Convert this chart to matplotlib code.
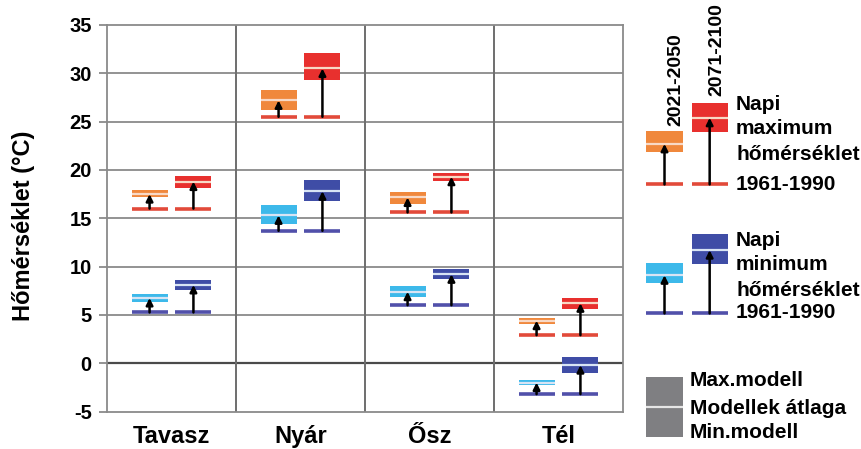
import matplotlib.pyplot as plt
import numpy as np

plt.rcParams['font.family'] = ['Liberation Sans', 'DejaVu Sans']
plt.rcParams['font.weight'] = 'bold'

# seasons
seasons = ['Tavasz', 'Nyár', 'Ősz', 'Tél']

# daily maximum temperature: 1961-1990 reference
tmax_base = [16.0, 25.5, 15.6, 2.9]
# 2021-2050 (min model, model mean, max model)
tmax_p1_lo = [17.15, 26.2, 16.5, 4.1]
tmax_p1_mean = [17.5, 27.2, 17.15, 4.4]
tmax_p1_hi = [17.9, 28.3, 17.7, 4.7]
# 2071-2100
tmax_p2_lo = [18.1, 29.3, 18.9, 5.6]
tmax_p2_mean = [18.8, 30.5, 19.3, 6.2]
tmax_p2_hi = [19.35, 32.1, 19.7, 6.75]

# daily minimum temperature: 1961-1990 reference
tmin_base = [5.25, 13.7, 6.0, -3.2]
# 2021-2050
tmin_p1_lo = [6.35, 14.4, 6.8, -2.3]
tmin_p1_mean = [6.75, 15.3, 7.4, -2.0]
tmin_p1_hi = [7.15, 16.35, 8.0, -1.75]
# 2071-2100
tmin_p2_lo = [7.6, 16.8, 8.7, -1.0]
tmin_p2_mean = [8.1, 17.8, 9.2, -0.2]
tmin_p2_hi = [8.6, 19.0, 9.7, 0.6]

# example glyphs shown in the key (illustrative values)
key_max_base = 18.5
key_max_lo = [21.9, 23.95]
key_max_mean = [22.7, 25.4]
key_max_hi = [24.05, 26.9]
key_min_base = 5.15
key_min_lo = [8.3, 10.25]
key_min_mean = [9.1, 11.7]
key_min_hi = [10.4, 13.4]

periods = ['2021-2050', '2071-2100']
yticks = [-5, 0, 5, 10, 15, 20, 25, 30, 35]

c_orange = '#F0883C'
c_red = '#E8302E'
c_lblue = '#3DB9EA'
c_dblue = '#3F4DA6'
c_base_red = '#E24A3A'
c_base_blue = '#5150AA'
c_mean_warm = '#F8D9C6'
c_mean_cold = '#D8E4F4'

W, H = 861, 449
fig = plt.figure(figsize=(W / 100, H / 100), dpi=100)


def px_rect(x0, y0, x1, y1):
    return [x0 / W, 1 - y1 / H, (x1 - x0) / W, (y1 - y0) / H]


ax = fig.add_axes(px_rect(107, 25, 623, 411.5))
bw = 0.28
offs = [0.33, 0.67]


def draw_box(a, x, base, lo, mean, hi, col, mcol, bcol):
    a.bar(x, hi - lo, bottom=lo, width=bw, color=col, edgecolor='none',
          zorder=3, clip_on=False)
    a.hlines(mean, x - bw / 2, x + bw / 2, color=mcol, lw=1.6, zorder=4,
             clip_on=False)
    a.hlines(base, x - bw / 2, x + bw / 2, color=bcol, lw=2.6, zorder=4,
             clip_on=False)
    a.annotate('', xy=(x, mean), xytext=(x, base),
               arrowprops=dict(arrowstyle='-|>', color='black', lw=1.8,
                               mutation_scale=10, shrinkA=0, shrinkB=0),
               zorder=5, annotation_clip=False)


for i in range(len(seasons)):
    x1 = i + offs[0]
    x2 = i + offs[1]
    draw_box(ax, x1, tmax_base[i], tmax_p1_lo[i], tmax_p1_mean[i], tmax_p1_hi[i],
             c_orange, c_mean_warm, c_base_red)
    draw_box(ax, x2, tmax_base[i], tmax_p2_lo[i], tmax_p2_mean[i], tmax_p2_hi[i],
             c_red, c_mean_warm, c_base_red)
    draw_box(ax, x1, tmin_base[i], tmin_p1_lo[i], tmin_p1_mean[i], tmin_p1_hi[i],
             c_lblue, c_mean_cold, c_base_blue)
    draw_box(ax, x2, tmin_base[i], tmin_p2_lo[i], tmin_p2_mean[i], tmin_p2_hi[i],
             c_dblue, c_mean_cold, c_base_blue)

ax.set_xlim(0, 4)
ax.set_ylim(-5, 35)
ax.set_yticks(yticks)
ax.set_yticklabels([str(t) for t in yticks], fontsize=14.5, fontweight='bold')
ax.set_xticks([i + 0.5 for i in range(len(seasons))])
ax.set_xticklabels(seasons, fontsize=17, fontweight='bold')
ax.tick_params(axis='x', length=0, pad=10)
ax.tick_params(axis='y', length=6, width=1.2, color='#808080', pad=5)
for t in yticks:
    if t in (-5, 35):
        continue
    ax.axhline(t, color='#4a4a4a' if t == 0 else '#8a8a8a',
               lw=1.6 if t == 0 else 1.3, zorder=1)
for xv in [1, 2, 3]:
    ax.axvline(xv, color='#6e6e6e', lw=1.4, zorder=1)
for s in ax.spines.values():
    s.set_color('#8a8a8a')
    s.set_linewidth(1.3)

fig.text(24 / W, 1 - 226 / H, 'Hőmérséklet (°C)', rotation=90, ha='center',
         va='center', fontsize=17, fontweight='bold')

# key axes with the same vertical scale, no frame
kax = fig.add_axes(px_rect(640, 25, 769, 411.5))
kax.set_xlim(0, 1)
kax.set_ylim(-5, 35)
kax.axis('off')
kx = [0.19, 0.54]
for j in range(2):
    draw_box(kax, kx[j], key_max_base, key_max_lo[j], key_max_mean[j],
             key_max_hi[j], [c_orange, c_red][j], c_mean_warm, c_base_red)
    draw_box(kax, kx[j], key_min_base, key_min_lo[j], key_min_mean[j],
             key_min_hi[j], [c_lblue, c_dblue][j], c_mean_cold, c_base_blue)

# grey model-range key
kax.bar(kx[0], 6.2, bottom=-7.63, width=bw, color='#7f7f82', zorder=3,
        clip_on=False)
kax.hlines(-4.52, kx[0] - bw / 2, kx[0] + bw / 2, color='#e6e6e6', lw=1.6,
           zorder=4, clip_on=False)


def ftext(x, y, s, **kw):
    fig.text(x / W, 1 - y / H, s, fontweight='bold', **kw)


ftext(676, 126, periods[0], rotation=90, ha='center', va='bottom', fontsize=14)
ftext(717, 96, periods[1], rotation=90, ha='center', va='bottom', fontsize=14)
for yy, s in zip([104, 129, 154, 184], ['Napi', 'maximum', 'hőmérséklet', '1961-1990']):
    ftext(736, yy, s, ha='left', va='center', fontsize=15)
for yy, s in zip([240, 265, 290, 313], ['Napi', 'minimum', 'hőmérséklet', '1961-1990']):
    ftext(736, yy, s, ha='left', va='center', fontsize=15)
for yy, s in zip([381, 409, 433], ['Max.modell', 'Modellek átlaga', 'Min.modell']):
    ftext(690, yy, s, ha='left', va='center', fontsize=15)

fig.savefig('out.png', dpi=100)
